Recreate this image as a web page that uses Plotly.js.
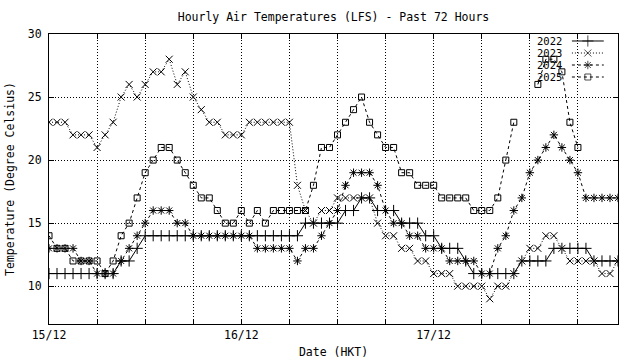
<!DOCTYPE html>
<html>
<head>
<meta charset="utf-8">
<script src="https://cdn.plot.ly/plotly-3.0.1.min.js"></script>
<style>
html,body{margin:0;padding:0;background:#fff;}
#chart{width:640px;height:360px;}
</style>
</head>
<body>
<div id="chart"></div>
<script>
// ---- data (hourly temperatures, degrees Celsius, from 15/12 00:00) ----
const seriesNames = ['2022', '2023', '2024', '2025'];
const temps2022 = [11,11,11,11,11,11,11,11,11,12,12,13,14,14,14,14,14,14,14,14,14,14,14,14,14,14,14,14,14,14,14,14,
  15,15,15,15,15,16,16,17,17,16,16,16,15,15,15,14,14,13,13,13,12,11,11,11,11,11,11,12,12,12,12,13,13,13,13,13,12,12,12,12];
const temps2023 = [23,23,23,22,22,22,21,22,23,25,26,25,26,27,27,28,26,27,25,24,23,23,22,22,22,23,23,23,23,23,23,18,
  16,15,16,16,17,17,17,17,17,15,14,14,13,13,12,12,11,11,11,10,10,10,10,9,10,10,11,12,13,13,14,14,13,12,12,12,12,11,11,12];
const temps2024 = [13,13,13,13,12,12,11,11,11,12,13,14,15,16,16,16,15,15,14,14,14,14,14,14,14,14,13,13,13,13,13,12,
  13,13,14,15,16,18,19,19,19,18,16,15,15,14,14,13,13,13,12,12,12,12,11,11,13,14,16,17,19,20,21,22,21,20,19,17,17,17,17,17];
const temps2025 = [14,13,13,12,12,12,12,11,12,14,15,17,19,20,21,21,20,19,18,17,17,16,15,15,16,15,16,15,16,16,16,16,
  16,18,21,21,22,23,24,25,23,22,21,21,19,19,18,18,18,17,17,17,17,16,16,16,17,20,23,null,null,26,28,28,27,23,21,null,null,null,null,null];
const startDay = '2025-12-15';
const dayTickLabels = ['15/12', '16/12', '17/12'];

// ---- helpers ----
function hourStamp(i) {
  const d = 15 + Math.floor(i / 24);
  const h = i % 24;
  return startDay.slice(0, 8) + String(d).padStart(2, '0') + ' ' + String(h).padStart(2, '0') + ':00';
}
const times = temps2022.map((_, i) => hourStamp(i));
const tickVals = [], tickText = [];
for (let i = 0; i < times.length; i += 6) {
  tickVals.push(times[i]);
  tickText.push(i % 24 === 0 ? dayTickLabels[i / 24] : '');
}

const styles = [
  {dash: 'solid', symbol: 'cross-thin-open', size: 8},
  {dash: '1px,2px', symbol: 'x-thin-open', size: 7},
  {dash: '3px,3px', symbol: 'asterisk-open', size: 7},
  {dash: '3px,3px', symbol: 'square-open', size: 6}
];
const allTemps = [temps2022, temps2023, temps2024, temps2025];

const traces = allTemps.map((vals, k) => ({
  type: 'scatter', mode: 'lines+markers', name: seriesNames[k],
  x: times, y: vals, connectgaps: false,
  line: {color: '#000', width: 1, dash: styles[k].dash},
  marker: {symbol: styles[k].symbol, size: styles[k].size, color: '#000',
           line: {color: '#000', width: 1}},
  showlegend: false, hoverinfo: 'skip'
}));

// gnuplot-style key (text left, sample right), drawn on an overlay axis
const keyRows = [0.9759, 0.9345, 0.8931, 0.8517];
const keyX = [0.919, 0.947, 0.975];
const annotations = [];
seriesNames.forEach((nm, k) => {
  traces.push({
    type: 'scatter', mode: 'lines+markers', xaxis: 'x2', yaxis: 'y2',
    x: keyX, y: [keyRows[k], keyRows[k], keyRows[k]],
    line: {color: '#000', width: 1, dash: styles[k].dash},
    marker: {symbol: styles[k].symbol, size: [0, styles[k].size, 0], color: '#000',
             line: {color: '#000', width: 1}},
    showlegend: false, hoverinfo: 'skip'
  });
  annotations.push({
    xref: 'paper', yref: 'paper', x: 0.905, y: keyRows[k], xanchor: 'right', yanchor: 'middle',
    text: nm, showarrow: false, font: {family: 'DejaVu Sans Mono', size: 10.5, color: '#000'}
  });
});

const font = {family: 'DejaVu Sans Mono', size: 11.5, color: '#000'};
const layout = {
  width: 640, height: 360,
  margin: {l: 49, r: 22, t: 34, b: 36},
  paper_bgcolor: '#fff', plot_bgcolor: '#fff',
  font: font,
  title: {text: 'Hourly Air Temperatures (LFS) - Past 72 Hours', font: font,
          x: 0.5, xref: 'paper', y: 1 - 17 / 360, yref: 'container', yanchor: 'middle'},
  xaxis: {
    type: 'date', range: [times[0], times[times.length - 1]],
    tickmode: 'array', tickvals: tickVals, ticktext: tickText,
    ticks: 'inside', ticklen: 5, tickcolor: '#000', tickwidth: 1,
    showline: true, mirror: 'ticks', linecolor: '#000', linewidth: 1,
    showgrid: true, gridcolor: '#000', gridwidth: 1, griddash: '1px,2px',
    zeroline: false, tickfont: font,
    title: {text: 'Date (HKT)', font: font, standoff: 7}
  },
  yaxis: {
    range: [7, 30], tickvals: [10, 15, 20, 25, 30],
    ticks: 'inside', ticklen: 5, tickcolor: '#000', tickwidth: 1,
    showline: true, mirror: 'ticks', linecolor: '#000', linewidth: 1,
    showgrid: true, gridcolor: '#000', gridwidth: 1, griddash: '1px,2px',
    zeroline: false, tickfont: font, ticklabelstandoff: 4,
    title: {text: 'Temperature (Degree Celsius)', font: font, standoff: 10}
  },
  xaxis2: {overlaying: 'x', range: [0, 1], visible: false, fixedrange: true},
  yaxis2: {overlaying: 'y', range: [0, 1], visible: false, fixedrange: true},
  annotations: annotations,
  showlegend: false
};

Plotly.newPlot('chart', traces, layout, {staticPlot: true, displayModeBar: false});
</script>
</body>
</html>
